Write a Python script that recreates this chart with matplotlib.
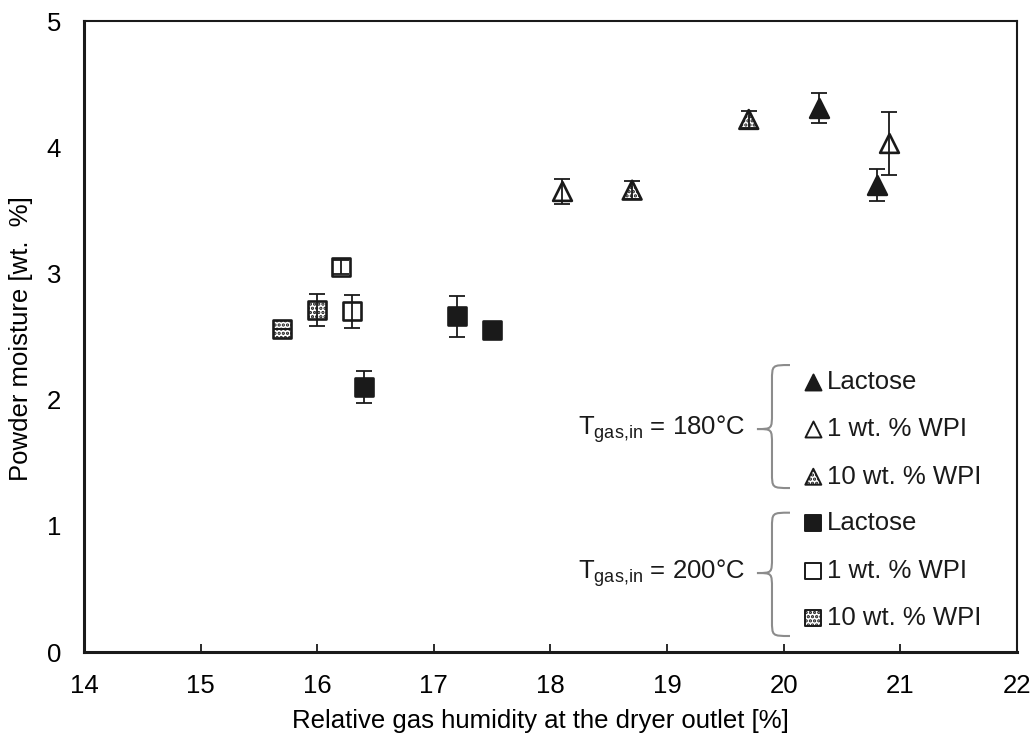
import numpy as np
import matplotlib
matplotlib.use("Agg")
import matplotlib.pyplot as plt
from matplotlib.path import Path
from matplotlib.patches import PathPatch

plt.rcParams['font.family'] = ['Liberation Sans', 'DejaVu Sans']
plt.rcParams['mathtext.fontset'] = 'custom'
plt.rcParams['mathtext.rm'] = 'Liberation Sans'
plt.rcParams['mathtext.it'] = 'Liberation Sans'
plt.rcParams['hatch.color'] = '#8a8a8a'
plt.rcParams['hatch.linewidth'] = 1.6

# measured points: relative gas humidity (%), powder moisture (wt. %), std dev
# T_gas,in = 180 °C
lac180_x = [20.3, 20.8]
lac180_y = [4.31, 3.70]
lac180_err = [0.12, 0.13]

wpi1_180_x = [18.1, 20.9]
wpi1_180_y = [3.65, 4.03]
wpi1_180_err = [0.10, 0.25]

wpi10_180_x = [18.7, 19.7]
wpi10_180_y = [3.66, 4.22]
wpi10_180_err = [0.07, 0.07]

# T_gas,in = 200 °C
lac200_x = [16.4, 17.2, 17.5]
lac200_y = [2.10, 2.66, 2.55]
lac200_err = [0.13, 0.16, 0.0]

wpi1_200_x = [16.2, 16.3]
wpi1_200_y = [3.05, 2.70]
wpi1_200_err = [0.055, 0.13]

wpi10_200_x = [15.7, 16.0]
wpi10_200_y = [2.56, 2.71]
wpi10_200_err = [0.0, 0.13]

legend_labels = ['Lactose', '1 wt. % WPI', '10 wt. % WPI']
group_labels = ['T$_{\\mathrm{gas{,}in}}$ = 180°C', 'T$_{\\mathrm{gas{,}in}}$ = 200°C']

ink = '#1a1a1a'
FS = 18.5

fig = plt.figure(figsize=(10.33, 7.38), dpi=100)
ax = fig.add_axes([0.0813, 0.1165, 0.9032, 0.855])

series = [
    (lac180_x, lac180_y, lac180_err, '^', ink, None),
    (wpi1_180_x, wpi1_180_y, wpi1_180_err, '^', 'white', None),
    (wpi10_180_x, wpi10_180_y, wpi10_180_err, '^', 'white', '....'),
    (lac200_x, lac200_y, lac200_err, 's', ink, None),
    (wpi1_200_x, wpi1_200_y, wpi1_200_err, 's', 'white', None),
    (wpi10_200_x, wpi10_200_y, wpi10_200_err, 's', 'white', '....'),
]

for x, y, e, m, fc, h in series:
    ms = 13.5 if m == '^' else 12.8
    ax.scatter(x, y, s=ms ** 2, marker=m, facecolor=fc, edgecolor=ink,
               linewidths=1.9, hatch=h, zorder=3)
    ax.errorbar(x, y, yerr=e, fmt='none', ecolor=ink, elinewidth=1.3,
                capsize=6, capthick=1.3, zorder=4)

ax.set_xlim(14, 22)
ax.set_ylim(0, 5)
ax.set_xticks(np.arange(14, 23, 1))
ax.set_yticks(np.arange(0, 6, 1))
ax.tick_params(axis='x', direction='in', length=6, width=1.3, color=ink,
               labelsize=FS, pad=16)
ax.tick_params(axis='y', length=0, labelsize=FS, pad=16.5)
for side in ['left', 'bottom']:
    ax.spines[side].set_linewidth(2.2)
    ax.spines[side].set_color(ink)
for side in ['top', 'right']:
    ax.spines[side].set_linewidth(1.5)
    ax.spines[side].set_color(ink)

ax.set_xlabel('Relative gas humidity at the dryer outlet [%]', fontsize=FS)
ax.set_ylabel('Powder moisture [wt.  %]', fontsize=FS)
ax.xaxis.set_label_coords(0.489, -0.09)
ax.yaxis.set_label_coords(-0.055, 0.497)

# in-plot legend with braces
tr = ax.transAxes
mx, tx = 0.7817, 0.796
rows = [0.4284, 0.3534, 0.2778, 0.2040, 0.1288, 0.0534]
lms = 11.5
for i, (m, fc, h) in enumerate([('^', ink, None), ('^', 'white', None), ('^', 'white', '....'),
                                ('s', ink, None), ('s', 'white', None), ('s', 'white', '....')]):
    ax.scatter([mx], [rows[i]], s=lms ** 2, marker=m, facecolor=fc, edgecolor=ink,
               linewidths=1.4, hatch=h, transform=tr, zorder=5, clip_on=False)
    ax.text(tx, rows[i], legend_labels[i % 3], transform=tr, fontsize=FS,
            ha='left', va='center', color=ink)


def brace(top, mid, bottom, tip=0.7213, spine=0.7374, end=0.7567, ry=0.025):
    verts = [(end, top), (spine, top), (spine, top), (spine, top - ry),
             (spine, mid + ry),
             (spine, mid), (spine, mid), (tip, mid),
             (spine, mid), (spine, mid), (spine, mid - ry),
             (spine, bottom + ry),
             (spine, bottom), (spine, bottom), (end, bottom)]
    codes = [Path.MOVETO, Path.CURVE4, Path.CURVE4, Path.CURVE4,
             Path.LINETO,
             Path.CURVE4, Path.CURVE4, Path.CURVE4,
             Path.CURVE4, Path.CURVE4, Path.CURVE4,
             Path.LINETO,
             Path.CURVE4, Path.CURVE4, Path.CURVE4]
    ax.add_patch(PathPatch(Path(verts, codes), transform=tr, fill=False,
                           edgecolor='#8c8c8c', linewidth=1.5, zorder=5))


brace(0.4548, 0.3534, 0.2599)
brace(0.2208, 0.1252, 0.0254)

ax.text(0.7085, 0.3534, group_labels[0], transform=tr, fontsize=FS,
        ha='right', va='center', color=ink)
ax.text(0.7085, 0.1252, group_labels[1], transform=tr, fontsize=FS,
        ha='right', va='center', color=ink)

fig.savefig('out.png', dpi=100)
